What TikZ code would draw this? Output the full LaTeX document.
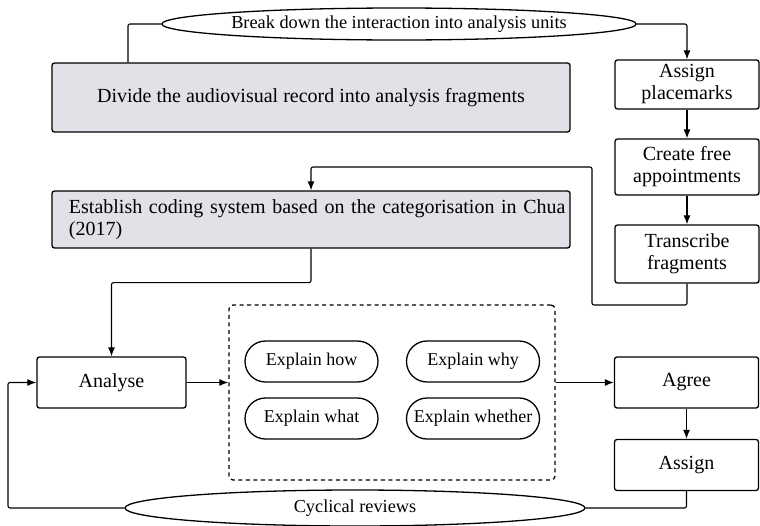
\documentclass[tikz,border=0pt]{standalone}
\usepackage{fontspec}
\setmainfont{Liberation Serif}
\usetikzlibrary{shapes.geometric,shapes.misc,arrows.meta}
\definecolor{boxgray}{RGB}{224,226,231}
\begin{document}
\begin{tikzpicture}[x=1pt,y=-1pt,
  box/.style={draw,line width=1.3pt,rounded corners=2.5pt,inner sep=0pt,align=center,font=\fontsize{20}{22}\selectfont},
  graybox/.style={box,fill=boxgray},
  oval/.style={draw,ellipse,line width=1.3pt,inner sep=0pt,font=\fontsize{18.3}{20}\selectfont},
  pill/.style={draw,rounded rectangle,line width=1.3pt,inner sep=0pt,font=\fontsize{18}{20}\selectfont,minimum width=133pt,minimum height=41pt},
  conn/.style={line width=1.1pt,rounded corners=2pt},
  arr/.style={conn,-{Latex[length=9pt,width=7pt]}}]
\useasboundingbox (0,0) rectangle (760,525);
% nodes
\node[oval,minimum width=458pt,minimum height=32pt] (ell1) at (399,24) {Break down the interaction into analysis units};
\node[graybox,minimum width=518pt,minimum height=69pt] (divide) at (311,97.5) {Divide the audiovisual record into analysis fragments};
\node[box,minimum width=144pt,minimum height=49pt] (ap) at (687,84.5) {Assign\\placemarks};
\node[box,minimum width=144pt,minimum height=56pt] (cfa) at (687,167) {Create free\\appointments};
\node[box,minimum width=144pt,minimum height=58pt] (tf) at (687,254) {Transcribe\\fragments};
\node[graybox,minimum width=518pt,minimum height=57pt,align=left,text width=510pt,inner xsep=4pt] (est) at (311,219.5) {\hspace*{13pt}Establish coding system based on the categorisation in Chua\\\hspace*{13pt}(2017)};
\node[box,minimum width=149pt,minimum height=51pt] (ana) at (111.5,382.5) {Analyse};
\node[draw,line width=1.3pt,dash pattern=on 4pt off 3.5pt,rounded corners=4pt,minimum width=326pt,minimum height=175pt,inner sep=0pt] (dbox) at (392,392.5) {};
\node[pill] (eh) at (311.5,361.5) {Explain how};
\node[pill] (ewt) at (311.5,418.5) {Explain what};
\node[pill] (ewy) at (473,361.5) {Explain why};
\node[pill] (ewh) at (473,418.5) {Explain whether};
\node[box,minimum width=144pt,minimum height=51pt] (agree) at (686.5,382.5) {Agree};
\node[box,minimum width=144pt,minimum height=51pt] (assign) at (686.5,465) {Assign};
\node[oval,minimum width=460pt,minimum height=36pt] (ell2) at (355,508) {Cyclical reviews};
% coordinates
\coordinate (c1) at (128,24);
\coordinate (c2) at (592,305);
\coordinate (c3) at (592,167);
\coordinate (c5) at (8,450);
% connectors
\draw[conn] (ell1.west) -- (c1) -- (c1 |- divide.north);
\draw[arr] (ell1.east) -| (ap.north);
\draw[arr] (ap.south) -- (cfa.north);
\draw[arr] (cfa.south) -- (tf.north);
\draw[arr] (tf.south) |- (c2) -- (c3) -| (est.north);
\draw[arr] (est.south) -- ++(0,34) -| (ana.north);
\draw[arr] (ana.east) -- (ana.east -| dbox.west);
\draw[arr] (agree.west -| dbox.east) -- (agree.west);
\draw[arr] (agree.south) -- (assign.north);
\draw[conn] (assign.south) |- (ell2.east);
\draw[arr] (ell2.west) -| (c5) |- (ana.west);
\end{tikzpicture}
\end{document}
